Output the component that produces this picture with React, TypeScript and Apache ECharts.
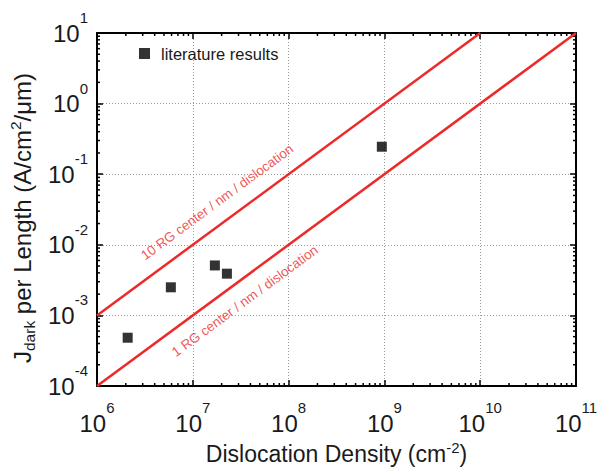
import { useEffect, useRef } from 'react';
import * as echarts from 'echarts';

// ---- data ----
const dislocationDensity = [2.09e6, 5.9e6, 1.7e7, 2.27e7, 9.4e8];
const jDarkPerLength = [4.83e-4, 2.5e-3, 5.1e-3, 3.9e-3, 0.245];

const line10RGx = [1e6, 1e10];
const line10RGy = [1e-3, 1e1];
const line1RGx = [1e6, 1e11];
const line1RGy = [1e-4, 1e1];

const xRange = [1e6, 1e11];
const yRange = [1e-4, 1e1];

const label10RG = '10 RG center / nm / dislocation';
const label1RG = '1 RG center / nm / dislocation';
const label10RGAt = [1.79e7, 0.0403];
const label1RGAt = [3.5e7, 1.6e-3];

const seriesName = 'literature results';

const FONT = "'Liberation Sans', Arial, Helvetica, sans-serif";
const RED = '#ec2a2a';
const INK = '#1a1a1a';

function minorTicks(lo: number, hi: number): number[] {
  const out: number[] = [];
  const e0 = Math.round(Math.log10(lo));
  const e1 = Math.round(Math.log10(hi));
  for (let e = e0; e < e1; e++) {
    for (let k = 2; k <= 9; k++) out.push(k * Math.pow(10, e));
  }
  return out;
}

const xMinor = minorTicks(xRange[0], xRange[1]);
const yMinor = minorTicks(yRange[0], yRange[1]);

const powLabel = (v: number) => `{b|10}{e|${Math.round(Math.log10(v))}}`;

const labelRich = {
  b: { fontSize: 24, lineHeight: 46, fontFamily: FONT, color: INK },
  e: { fontSize: 15, lineHeight: 8, fontFamily: FONT, color: INK, verticalAlign: 'top' },
};

export default function App() {
  const ref = useRef<HTMLDivElement>(null);
  useEffect(() => {
    if (!ref.current) return;
    const chart = echarts.init(ref.current, null, { renderer: 'svg' });
    const tickStyle = { stroke: '#000', lineWidth: 1.5 };
    const option: any = {
      animation: false,
      backgroundColor: '#fff',
      textStyle: { fontFamily: FONT },
      grid: { left: 97, right: 23, top: 33, bottom: 83, containLabel: false, outerBoundsMode: 'none' },
      legend: {
        data: [seriesName],
        left: 134,
        top: 40,
        itemWidth: 11,
        itemHeight: 11,
        icon: 'rect',
        textStyle: { fontSize: 16.5, color: INK, fontFamily: FONT, padding: [0, 0, 0, 6] },
        selectedMode: false,
      },
      xAxis: [
        {
          type: 'log',
          logBase: 10,
          min: xRange[0],
          max: xRange[1],
          position: 'bottom',
          name: '{n|Dislocation Density (cm}{sup|-2}{n|)}',
          nameLocation: 'middle',
          nameGap: 42,
          nameTextStyle: {
            rich: {
              n: { fontSize: 23, fontFamily: FONT, color: INK, lineHeight: 26, verticalAlign: 'bottom' },
              sup: { fontSize: 15, fontFamily: FONT, color: INK, lineHeight: 8, verticalAlign: 'top' },
            },
          },
          axisLine: { show: true, onZero: false, lineStyle: { color: '#000', width: 2 } },
          axisTick: { show: true, inside: true, length: 6, lineStyle: { color: '#000', width: 1.5 } },
          axisLabel: { margin: 14, formatter: powLabel, rich: labelRich },
          splitLine: { show: true, lineStyle: { color: '#9a9a9a', width: 1, type: [1, 2] } },
        },
        {
          type: 'log',
          logBase: 10,
          min: xRange[0],
          max: xRange[1],
          position: 'top',
          axisLine: { show: true, onZero: false, lineStyle: { color: '#000', width: 2 } },
          axisTick: { show: true, inside: true, length: 6, lineStyle: { color: '#000', width: 1.5 } },
          axisLabel: { show: false },
          splitLine: { show: false },
        },
      ],
      yAxis: [
        {
          type: 'log',
          logBase: 10,
          min: yRange[0],
          max: yRange[1],
          position: 'left',
          name: '{n|J}{sub|dark}{n| per Length (A/cm}{sup|2}{n|/μm)}',
          nameLocation: 'middle',
          nameRotate: 90,
          nameGap: 54,
          nameTextStyle: {
            padding: [0, 17, 0, 0],
            rich: {
              n: { fontSize: 24, fontFamily: FONT, color: INK, lineHeight: 30 },
              sub: { fontSize: 15.5, fontFamily: FONT, color: INK, lineHeight: 8, verticalAlign: 'bottom' },
              sup: { fontSize: 15.5, fontFamily: FONT, color: INK, lineHeight: 8, verticalAlign: 'top' },
            },
          },
          axisLine: { show: true, onZero: false, lineStyle: { color: '#000', width: 2 } },
          axisTick: { show: true, inside: true, length: 6, lineStyle: { color: '#000', width: 1.5 } },
          axisLabel: { margin: 9, formatter: powLabel, rich: labelRich },
          splitLine: { show: true, lineStyle: { color: '#9a9a9a', width: 1, type: [1, 2] } },
        },
        {
          type: 'log',
          logBase: 10,
          min: yRange[0],
          max: yRange[1],
          position: 'right',
          axisLine: { show: true, onZero: false, lineStyle: { color: '#000', width: 2 } },
          axisTick: { show: true, inside: true, length: 6, lineStyle: { color: '#000', width: 1.5 } },
          axisLabel: { show: false },
          splitLine: { show: false },
        },
      ],
      series: [
        {
          type: 'custom',
          name: 'xMinor',
          silent: true,
          data: xMinor.map((v) => [v, yRange[0]]),
          renderItem: (_p: any, api: any) => {
            const v = api.value(0);
            const b = api.coord([v, yRange[0]]);
            const t = api.coord([v, yRange[1]]);
            return {
              type: 'group',
              children: [
                { type: 'line', shape: { x1: b[0], y1: b[1], x2: b[0], y2: b[1] - 3 }, style: tickStyle },
                { type: 'line', shape: { x1: t[0], y1: t[1], x2: t[0], y2: t[1] + 3 }, style: tickStyle },
              ],
            };
          },
        },
        {
          type: 'custom',
          name: 'yMinor',
          silent: true,
          data: yMinor.map((v) => [xRange[0], v]),
          renderItem: (_p: any, api: any) => {
            const v = api.value(1);
            const l = api.coord([xRange[0], v]);
            const r = api.coord([xRange[1], v]);
            return {
              type: 'group',
              children: [
                { type: 'line', shape: { x1: l[0], y1: l[1], x2: l[0] + 3, y2: l[1] }, style: tickStyle },
                { type: 'line', shape: { x1: r[0], y1: r[1], x2: r[0] - 3, y2: r[1] }, style: tickStyle },
              ],
            };
          },
        },
        {
          type: 'line',
          name: '10RG',
          data: line10RGx.map((x, i) => [x, line10RGy[i]]),
          showSymbol: false,
          symbol: 'none',
          silent: true,
          lineStyle: { color: RED, width: 2.5 },
        },
        {
          type: 'line',
          name: '1RG',
          data: line1RGx.map((x, i) => [x, line1RGy[i]]),
          showSymbol: false,
          symbol: 'none',
          silent: true,
          lineStyle: { color: RED, width: 2.5 },
        },
        {
          type: 'scatter',
          name: 'lbl10',
          silent: true,
          symbolSize: 0,
          data: [label10RGAt],
          label: {
            show: true,
            position: 'inside',
            rotate: 36.4,
            formatter: label10RG,
            color: RED,
            fontSize: 13.5,
            fontFamily: FONT,
          },
        },
        {
          type: 'scatter',
          name: 'lbl1',
          silent: true,
          symbolSize: 0,
          data: [label1RGAt],
          label: {
            show: true,
            position: 'inside',
            rotate: 36.4,
            formatter: label1RG,
            color: RED,
            fontSize: 13.5,
            fontFamily: FONT,
          },
        },
        {
          type: 'scatter',
          name: seriesName,
          symbol: 'rect',
          symbolSize: 10,
          itemStyle: { color: '#000' },
          data: dislocationDensity.map((x, i) => [x, jDarkPerLength[i]]),
        },
      ],
    };
    chart.setOption(option);
    return () => chart.dispose();
  }, []);
  return (
    <div
      ref={ref}
      style={{ position: 'fixed', left: 0, top: 0, width: 599, height: 469, background: '#fff' }}
    />
  );
}
